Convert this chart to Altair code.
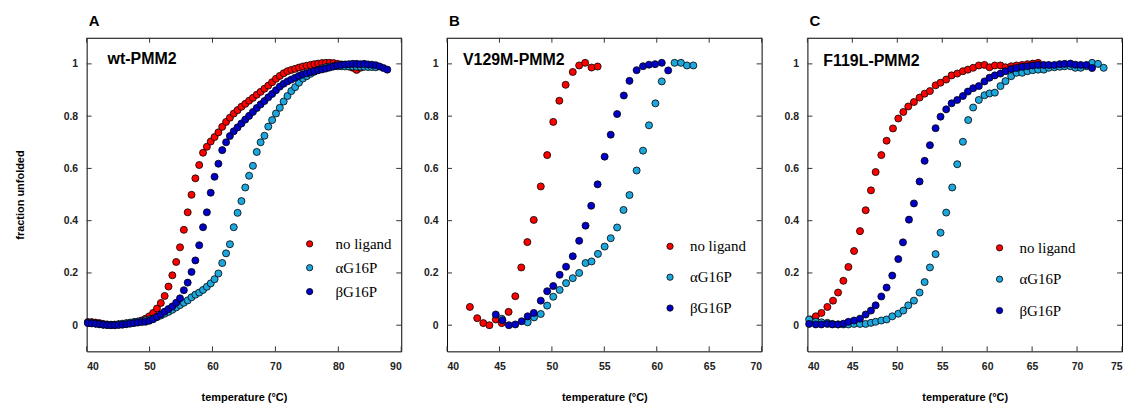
import altair as alt
import pandas as pd

SERIES = ["no ligand", "αG16P", "βG16P"]
COLORS = ["#ff0000", "#1ea7dc", "#0000c8"]
PANEL_LETTERS = ["A", "B", "C"]
PANEL_NAMES = ["wt-PMM2", "V129M-PMM2", "F119L-PMM2"]
X_DOMAINS = [[40, 90], [40, 70], [40, 75]]
X_TICKS = [[40, 50, 60, 70, 80, 90],
           [40, 45, 50, 55, 60, 65, 70],
           [40, 45, 50, 55, 60, 65, 70, 75]]
Y_DOMAIN = [-0.1, 1.1]
Y_TICKS = [0, 0.2, 0.4, 0.6, 0.8, 1]
X_TITLE = "temperature (°C)"
Y_TITLE = "fraction unfolded"

# ---- Panel A (wt-PMM2): shared temperature readings
A_T = [40.20, 40.81, 41.42, 42.03, 42.64, 43.25, 43.86, 44.47, 45.08, 45.69,
       46.30, 46.91, 47.52, 48.13, 48.74, 49.35, 49.96, 50.57, 51.18, 51.79,
       52.40, 53.01, 53.62, 54.23, 54.84, 55.45, 56.06, 56.67, 57.28, 57.89,
       58.50, 59.11, 59.72, 60.33, 60.94, 61.55, 62.16, 62.77, 63.38, 63.99,
       64.60, 65.21, 65.82, 66.43, 67.04, 67.65, 68.26, 68.87, 69.48, 70.09,
       70.70, 71.31, 71.92, 72.53, 73.14, 73.75, 74.36, 74.97, 75.58, 76.19,
       76.80, 77.41, 78.02, 78.63, 79.24, 79.85, 80.46, 81.07, 81.68, 82.29,
       82.90, 83.51, 84.12, 84.73, 85.34, 85.95, 86.56, 87.17, 87.78]
A_NOLIG = [0.012, 0.012, 0.010, 0.008, 0.005, 0.003, 0.002, 0.002, 0.003, 0.004,
           0.006, 0.008, 0.011, 0.014, 0.018, 0.025, 0.034, 0.047, 0.064, 0.085,
           0.112, 0.148, 0.191, 0.242, 0.298, 0.365, 0.432, 0.499, 0.562, 0.613,
           0.660, 0.683, 0.703, 0.720, 0.738, 0.759, 0.778, 0.794, 0.810, 0.823,
           0.836, 0.847, 0.859, 0.870, 0.882, 0.893, 0.905, 0.917, 0.930, 0.943,
           0.954, 0.964, 0.972, 0.977, 0.981, 0.986, 0.990, 0.993, 0.996, 0.999,
           1.001, 1.003, 1.004, 1.004, 1.003, 1.000, 0.998, 0.995, 0.990, 0.985,
           0.977, 0.985, 0.990]
A_ALPHA = [0.010, 0.008, 0.006, 0.004, 0.002, 0.001, 0.001, 0.002, 0.004, 0.006,
           0.008, 0.010, 0.012, 0.014, 0.016, 0.019, 0.022, 0.026, 0.031, 0.037,
           0.044, 0.051, 0.059, 0.068, 0.077, 0.086, 0.095, 0.107, 0.117, 0.125,
           0.135, 0.147, 0.160, 0.176, 0.198, 0.238, 0.275, 0.310, 0.375, 0.430,
           0.475, 0.527, 0.572, 0.610, 0.663, 0.700, 0.725, 0.760, 0.785, 0.810,
           0.832, 0.856, 0.877, 0.896, 0.911, 0.928, 0.944, 0.953, 0.962, 0.970,
           0.977, 0.983, 0.987, 0.990, 0.991, 0.991, 0.991, 0.990, 0.990, 0.990,
           0.989, 0.989, 0.989, 0.988, 0.988, 0.987]
A_BETA = [0.008, 0.007, 0.006, 0.004, 0.002, 0.001, 0.000, 0.000, 0.001, 0.002,
          0.004, 0.006, 0.008, 0.010, 0.012, 0.013, 0.017, 0.023, 0.032, 0.042,
          0.052, 0.062, 0.072, 0.086, 0.103, 0.134, 0.163, 0.204, 0.248, 0.306,
          0.375, 0.432, 0.507, 0.568, 0.618, 0.670, 0.700, 0.724, 0.742, 0.757,
          0.772, 0.787, 0.801, 0.816, 0.831, 0.845, 0.858, 0.872, 0.885, 0.899,
          0.913, 0.924, 0.933, 0.940, 0.947, 0.954, 0.960, 0.964, 0.968, 0.972,
          0.976, 0.979, 0.982, 0.986, 0.990, 0.994, 0.996, 0.998, 0.999, 1.000,
          1.000, 0.999, 1.000, 0.998, 0.997, 0.995, 0.990, 0.984, 0.978]

# ---- Panel B (V129M-PMM2)
B_NOLIG_T = [42.18, 42.88, 43.46, 44.04, 44.65, 45.22, 45.87, 46.51, 47.08, 47.66,
             48.27, 48.94, 49.55, 50.13, 50.71, 51.31, 51.99, 52.60, 53.17, 53.78, 54.36]
B_NOLIG = [0.070, 0.027, 0.008, 0.000, 0.022, 0.008, 0.051, 0.111, 0.221, 0.318,
           0.403, 0.531, 0.651, 0.778, 0.859, 0.920, 0.969, 0.994, 1.004, 0.986, 0.990]
B_ALPHA_T = [45.22, 47.69, 48.30, 48.94, 49.55, 50.13, 50.74, 51.35, 51.99, 52.60,
             53.21, 53.78, 54.39, 55.03, 55.61, 56.22, 56.83, 57.40, 58.08, 58.69,
             59.26, 59.87, 60.48, 61.70, 62.31, 62.88, 63.49]
B_ALPHA = [0.025, 0.011, 0.030, 0.043, 0.075, 0.109, 0.135, 0.161, 0.180, 0.200,
           0.238, 0.244, 0.273, 0.301, 0.333, 0.374, 0.441, 0.498, 0.592, 0.668,
           0.765, 0.849, 0.933, 1.004, 1.004, 0.994, 0.994]
B_BETA_T = [44.65, 45.29, 45.90, 46.51, 47.12, 47.69, 48.27, 48.94, 49.55, 50.13,
            50.74, 51.35, 51.99, 52.60, 53.21, 53.75, 54.36, 55.03, 55.61, 56.22,
            56.86, 57.40, 58.08, 58.69, 59.26, 59.84, 60.48, 61.09]
B_BETA = [0.041, 0.019, 0.000, 0.003, 0.015, 0.034, 0.047, 0.094, 0.130, 0.150,
          0.193, 0.224, 0.264, 0.323, 0.381, 0.457, 0.539, 0.645, 0.729, 0.808,
          0.879, 0.935, 0.976, 0.991, 0.997, 0.999, 1.004, 0.975]

# ---- Panel C (F119L-PMM2)
C_NOLIG_T = [40.35, 40.93, 41.56, 42.22, 42.85, 43.41, 44.00, 44.56, 45.19, 45.85,
             46.48, 47.07, 47.59, 48.22, 48.81, 49.52, 50.11, 50.67, 51.22, 51.85,
             52.48, 53.04, 53.63, 54.26, 54.81, 55.44, 56.04, 56.67, 57.30, 57.85,
             58.44, 59.07, 59.70, 60.26, 60.85, 61.48, 62.04, 62.67, 63.26, 63.89,
             64.48, 65.07, 65.67]
C_NOLIG = [0.022, 0.034, 0.047, 0.070, 0.094, 0.125, 0.170, 0.223, 0.284, 0.360,
           0.440, 0.516, 0.586, 0.651, 0.706, 0.753, 0.791, 0.816, 0.837, 0.854,
           0.871, 0.886, 0.896, 0.918, 0.928, 0.940, 0.956, 0.963, 0.972, 0.978,
           0.985, 0.994, 0.996, 0.987, 0.994, 0.994, 0.987, 0.991, 0.994, 0.996,
           0.999, 1.001, 1.004]
C_ALPHA_T = [40.19, 40.93, 41.56, 42.22, 42.78, 43.41, 44.00, 44.56, 45.19, 45.85,
             46.48, 47.07, 47.59, 48.22, 48.81, 49.44, 50.11, 50.67, 51.22, 51.85,
             52.48, 53.04, 53.63, 54.26, 54.81, 55.44, 56.11, 56.67, 57.30, 57.89,
             58.44, 59.07, 59.70, 60.26, 60.85, 61.48, 62.04, 62.67, 63.26, 63.89,
             64.48, 65.07, 65.67, 66.30, 66.85, 67.48, 68.07, 68.63, 69.26, 69.81,
             70.41, 71.04, 71.67, 72.33, 72.96]
C_ALPHA = [0.022, 0.013, 0.011, 0.009, 0.005, 0.003, 0.003, 0.003, 0.005, 0.005,
           0.005, 0.009, 0.013, 0.018, 0.022, 0.034, 0.044, 0.056, 0.076, 0.094,
           0.125, 0.165, 0.221, 0.272, 0.354, 0.431, 0.527, 0.616, 0.702, 0.785,
           0.833, 0.862, 0.880, 0.887, 0.890, 0.915, 0.934, 0.953, 0.966, 0.966,
           0.972, 0.976, 0.978, 0.978, 0.985, 0.987, 0.989, 0.991, 0.991, 0.985,
           0.985, 0.991, 1.004, 1.000, 0.985]
C_BETA_T = [40.19, 40.93, 41.56, 42.22, 42.78, 43.41, 44.00, 44.56, 45.19, 45.85,
            46.48, 47.07, 47.59, 48.22, 48.81, 49.44, 50.11, 50.63, 51.30, 51.85,
            52.48, 53.04, 53.63, 54.26, 54.81, 55.44, 56.04, 56.67, 57.30, 57.85,
            58.44, 59.07, 59.70, 60.26, 60.85, 61.48, 62.04, 62.67, 63.26, 63.89,
            64.48, 65.07, 65.67, 66.30, 66.85, 67.48, 68.07, 68.63, 69.26, 69.81,
            70.41, 71.04, 71.67]
C_BETA = [0.005, 0.003, 0.003, 0.005, 0.003, 0.003, 0.006, 0.013, 0.018, 0.025,
          0.041, 0.056, 0.076, 0.110, 0.144, 0.190, 0.253, 0.317, 0.404, 0.466,
          0.550, 0.629, 0.689, 0.754, 0.798, 0.826, 0.849, 0.862, 0.877, 0.894,
          0.907, 0.915, 0.933, 0.947, 0.956, 0.963, 0.972, 0.980, 0.984, 0.989,
          0.991, 0.994, 0.996, 0.996, 0.996, 0.996, 0.999, 1.000, 1.001, 0.997,
          0.996, 0.996, 0.984]

PANEL_DATA = [
    [(A_T[:len(A_NOLIG)], A_NOLIG), (A_T[:len(A_ALPHA)], A_ALPHA), (A_T[:len(A_BETA)], A_BETA)],
    [(B_NOLIG_T, B_NOLIG), (B_ALPHA_T, B_ALPHA), (B_BETA_T, B_BETA)],
    [(C_NOLIG_T, C_NOLIG), (C_ALPHA_T, C_ALPHA), (C_BETA_T, C_BETA)],
]

W, H = 316, 315
TICK_LEN = 5
TICK_COLOR = "#333333"
FONT = "Liberation Sans"

# legend / label placement per panel (pixels within the plot area)
LEG_X = [216.5, 216.5, 185.5]
LEG_Y = [199.5, 202, 203.5]
LEG_ROWPAD = [8, 15, 15.5]
LEG_OFFSET = [18.5, 12.5, 12.5]
NBSP = "\u00a0"
LEG_EXPR = ["datum.label",
            "datum.label == 'no ligand' ? datum.label : '" + NBSP + "' + datum.label",
            "datum.label == 'no ligand' ? datum.label : '" + NBSP + "' + datum.label"]
NAME_X = [21, 16, 16]
NAME_Y = [21, 22, 23]


def make_df(series_list):
    rows = []
    for name, (ts, fs) in zip(SERIES, series_list):
        for t, f in zip(ts, fs):
            rows.append({"T": t, "F": f, "S": name})
    return pd.DataFrame(rows)


def panel(i):
    df = make_df(PANEL_DATA[i])
    xs = alt.Scale(domain=X_DOMAINS[i], nice=False, zero=False)
    ys = alt.Scale(domain=Y_DOMAIN, nice=False, zero=False)

    yaxis_kw = dict(orient="left", values=Y_TICKS, format="~g", ticks=False,
                    domain=False, grid=False, labelPadding=9)
    if i == 0:
        yaxis_kw.update(title=Y_TITLE, titlePadding=38)
    else:
        yaxis_kw.update(title=None)
    ax_x = alt.Axis(orient="bottom", values=X_TICKS[i], ticks=False,
                    domain=False, grid=False, labelPadding=10,
                    title=X_TITLE, titlePadding=20)
    ax_y = alt.Axis(**yaxis_kw)

    pts = alt.Chart(df).mark_circle(size=50, opacity=1, stroke="black", strokeWidth=0.8).encode(
        x=alt.X("T:Q", scale=xs, axis=ax_x),
        y=alt.Y("F:Q", scale=ys, axis=ax_y),
        color=alt.Color("S:N", scale=alt.Scale(domain=SERIES, range=COLORS),
                        legend=alt.Legend(orient="none", legendX=LEG_X[i], legendY=LEG_Y[i],
                                          title=None, padding=0, rowPadding=LEG_ROWPAD[i],
                                          labelFont="Liberation Serif", labelFontSize=15,
                                          labelColor="black", labelOffset=LEG_OFFSET[i],
                                          labelExpr=LEG_EXPR[i],
                                          symbolType="circle", symbolSize=40,
                                          symbolStrokeColor="black", symbolStrokeWidth=0.8,
                                          symbolOpacity=1)),
    )

    # inward ticks on all four sides, placed at the tick values through the scales
    xt = alt.Chart(pd.DataFrame({"T": X_TICKS[i]}))
    yt = alt.Chart(pd.DataFrame({"F": Y_TICKS}))
    rule_kw = dict(color=TICK_COLOR, strokeWidth=1)
    xt_top = xt.mark_rule(**rule_kw).encode(
        x=alt.X("T:Q", scale=xs, axis=ax_x), y=alt.value(0), y2=alt.value(TICK_LEN))
    xt_bot = xt.mark_rule(**rule_kw).encode(
        x=alt.X("T:Q", scale=xs, axis=ax_x), y=alt.value(H - TICK_LEN), y2=alt.value(H))
    yt_left = yt.mark_rule(**rule_kw).encode(
        y=alt.Y("F:Q", scale=ys, axis=ax_y), x=alt.value(0), x2=alt.value(TICK_LEN))
    yt_right = yt.mark_rule(**rule_kw).encode(
        y=alt.Y("F:Q", scale=ys, axis=ax_y), x=alt.value(W - TICK_LEN), x2=alt.value(W))

    name = alt.Chart(pd.DataFrame({"name": [PANEL_NAMES[i]]})).mark_text(
        align="left", baseline="middle", font=FONT, fontWeight="bold",
        fontSize=16, color="black"
    ).encode(text="name:N", x=alt.value(NAME_X[i]), y=alt.value(NAME_Y[i]))

    return alt.layer(xt_top, xt_bot, yt_left, yt_right, pts, name).properties(
        width=W, height=H,
        title=alt.TitleParams(text=PANEL_LETTERS[i], anchor="start", frame="group",
                              fontSize=15, font=FONT, fontWeight="bold", color="black",
                              offset=8, dx=2),
    )


chart = alt.hconcat(panel(0), panel(1), panel(2), spacing=46, bounds="flush").resolve_legend(
    color="independent"
).configure_view(
    stroke="black", strokeWidth=1
).configure_axis(
    labelFont=FONT, labelFontWeight="bold", labelFontSize=10.5, labelColor="#222222",
    titleFont=FONT, titleFontWeight="bold", titleFontSize=11, titleColor="black"
).properties(
    padding={"left": 5, "top": 5, "right": 0, "bottom": 0},
    background="white"
)

chart.save("out.html", embed_options={"renderer": "svg", "actions": False})
